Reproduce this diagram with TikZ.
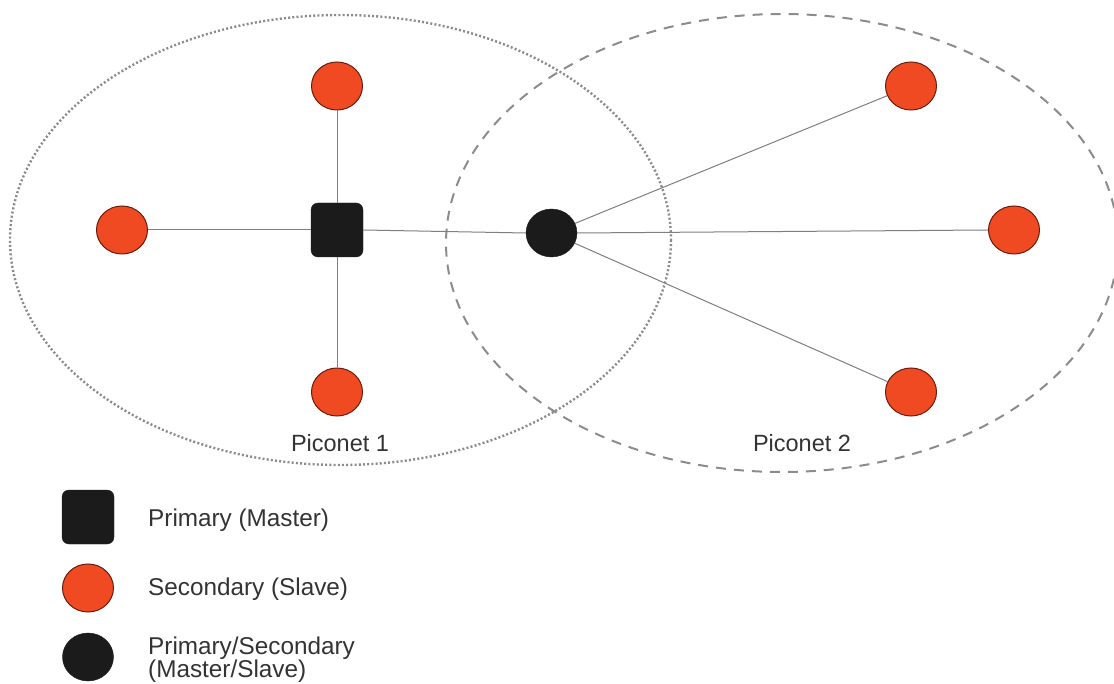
\documentclass[tikz,border=0pt]{standalone}
\usepackage{fontspec}
\setmainfont{Liberation Sans}
\usetikzlibrary{shapes.geometric}
\definecolor{redfill}{HTML}{F04A23}
\definecolor{redline}{HTML}{6A1C0C}
\definecolor{blk}{HTML}{1B1B1B}
\definecolor{edgegray}{HTML}{7F7F7F}
\definecolor{ringgray}{HTML}{8C8C8C}
\definecolor{txt}{HTML}{333333}
\tikzset{
  slave/.style={ellipse, minimum width=51pt, minimum height=48pt, inner sep=0pt, fill=redfill, draw=redline, line width=1pt},
  master/.style={rectangle, rounded corners=7pt, minimum width=52pt, minimum height=54pt, inner sep=0pt, fill=blk, draw=blk},
  bridge/.style={ellipse, minimum width=51pt, minimum height=48pt, inner sep=0pt, fill=blk, draw=blk},
  link/.style={draw=edgegray, line width=1pt},
  lbl/.style={text=txt, font=\fontsize{23.5}{23}\selectfont, inner sep=0pt},
  leg/.style={text=txt, font=\fontsize{24.3}{23}\selectfont, inner sep=0pt},
  ringdot/.style={draw=ringgray, line width=2.4pt, dash pattern=on 2pt off 2.2pt},
  ringdash/.style={draw=ringgray, line width=2pt, dash pattern=on 10pt off 8pt}
}
\begin{document}
\begin{tikzpicture}[x=1pt,y=-1pt]
\useasboundingbox (0,0) rectangle (1114,684);
\clip (0,0) rectangle (1114,684);
\fill[white] (0,0) rectangle (1114,684);
% piconet rings
\draw[ringdot] (340.5,240) ellipse [x radius=330.5, y radius=225];
\draw[ringdash] (782,243) ellipse [x radius=336, y radius=229];
% nodes
\node[master] (m) at (337,230) {};
\node[slave] (s1) at (337,86) {};
\node[slave] (s2) at (122,230) {};
\node[slave] (s3) at (337,392) {};
\node[bridge] (b) at (551.5,233) {};
\node[slave] (t1) at (911,86) {};
\node[slave] (t2) at (1014,230) {};
\node[slave] (t3) at (911,392) {};
% links
\draw[link] (m) -- (s1);
\draw[link] (m) -- (s2);
\draw[link] (m) -- (s3);
\draw[link] (m.east) -- (b.west);
\draw[link] (b) -- (t1);
\draw[link] (b.east) -- (t2.west);
\draw[link] (b) -- (t3);
% piconet labels
\node[lbl, anchor=base] (p1) at (340,452) {Piconet 1};
\node[lbl, anchor=base] (p2) at (802,452) {Piconet 2};
% legend
\node[master] (lm) at (88,517) {};
\node[slave] (ls) at (88,588) {};
\node[bridge] (lb) at (88,657) {};
\node[leg, anchor=base west] (tm) at (148,526) {Primary (Master)};
\node[leg, anchor=base west] (ts) at (148,595) {Secondary (Slave)};
\node[leg, anchor=base west, align=left] (tb) at (148,677) {Primary/Secondary\\(Master/Slave)};
\end{tikzpicture}
\end{document}
